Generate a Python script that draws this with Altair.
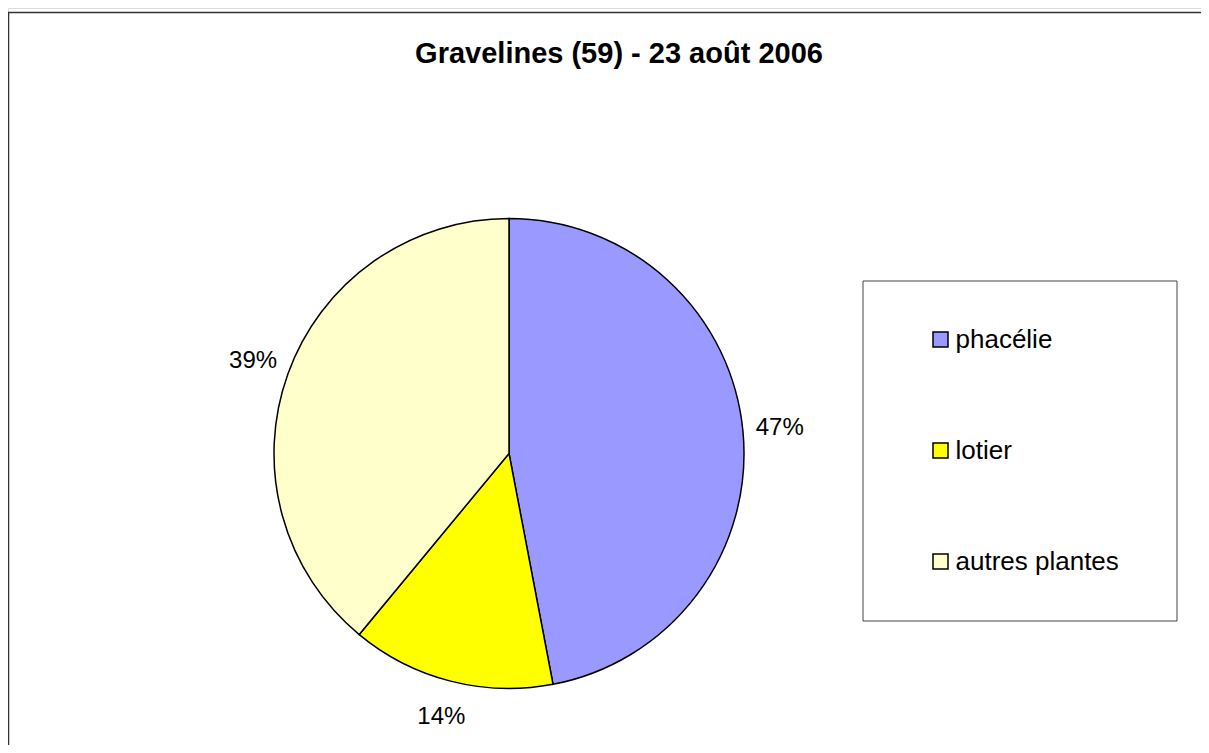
import altair as alt
import pandas as pd

title_text = "Gravelines (59) - 23 août 2006"
categories = ["phacélie", "lotier", "autres plantes"]
values = [47, 14, 39]
colors = ["#9999FF", "#FFFF00", "#FFFFCC"]

df = pd.DataFrame({"plante": categories, "valeur": values, "ordre": list(range(len(categories)))})

FONT = "Liberation Sans"
W, H = 1193, 737
CX, CY, R = 501, 445.5, 235

base = alt.Chart(df).transform_joinaggregate(
    total="sum(valeur)"
).transform_calculate(
    pct="format(datum.valeur / datum.total, '.0%')"
)

theta = alt.Theta("valeur:Q", stack=True)
order = alt.Order("ordre:Q", sort="ascending")

pie = base.mark_arc(radius=R, stroke="black", strokeWidth=1.5).encode(
    theta=theta,
    order=order,
    color=alt.Color(
        "plante:N",
        scale=alt.Scale(domain=categories, range=colors),
        sort=categories,
        legend=alt.Legend(
            title=".",
            titleOrient="right",
            titleColor="white",
            titleFontSize=6,
            titlePadding=10,
            orient="none",
            legendX=854.5,
            legendY=272.5,
            direction="vertical",
            padding=46,
            rowPadding=85,
            symbolType="square",
            symbolSize=225,
            symbolStrokeColor="black",
            symbolStrokeWidth=1.5,
            symbolOffset=19,
            labelOffset=2,
            labelFont=FONT,
            labelFontSize=26,
            labelColor="black",
            labelLimit=400,
            strokeColor="#444444",
            fillColor="white",
        ),
    ),
    x=alt.value(CX),
    y=alt.value(CY),
)

labels = base.mark_text(radius=272, font=FONT, fontSize=24, color="black",
                        align="center", baseline="middle").encode(
    theta=theta,
    order=order,
    text="pct:N",
    x=alt.value(CX),
    y=alt.value(CY),
)

title_df = pd.DataFrame({"t": [title_text]})
title = alt.Chart(title_df).mark_text(font=FONT, fontSize=29, fontWeight="bold",
                                      color="black", align="center", baseline="middle").encode(
    text="t:N", x=alt.value(611), y=alt.value(46)
)

one = pd.DataFrame({"a": [0]})
left_border = alt.Chart(one).mark_rule(color="#333333", strokeWidth=1.3).encode(
    x=alt.value(0.6), y=alt.value(4.5), y2=alt.value(H)
)
top_border = alt.Chart(one).mark_rule(color="#333333", strokeWidth=1.3).encode(
    x=alt.value(0), x2=alt.value(W), y=alt.value(4.5)
)

chart = alt.layer(pie, labels, title, left_border, top_border).properties(
    width=W, height=H, padding=0, autosize=alt.AutoSizeParams(type="none")
).configure_view(stroke=None).configure(background="white")

chart.save("out.html", embed_options={"renderer": "svg", "actions": False})
